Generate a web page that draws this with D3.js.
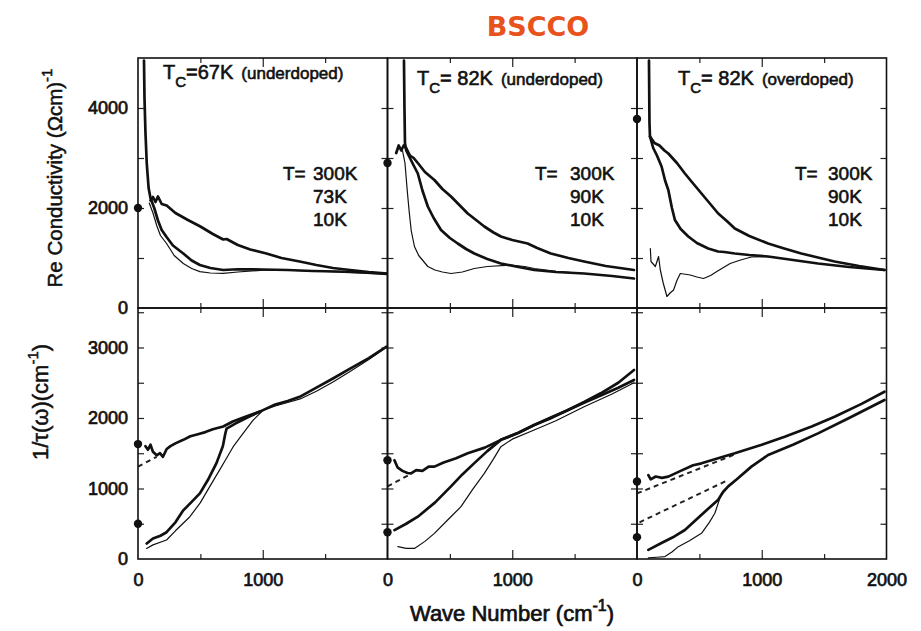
<!DOCTYPE html>
<html>
<head>
<meta charset="utf-8">
<script src="https://cdn.jsdelivr.net/npm/d3@7/dist/d3.min.js"></script>
<style>
  html, body { margin: 0; padding: 0; background: #fff; }
  svg { display: block; }
  text { font-family: "Liberation Sans", Arial, sans-serif; fill: #111; }
</style>
</head>
<body>
<svg id="chart" width="921" height="631"></svg>
<script>
// ---------------- DATA ----------------
const chartTitle = "BSCCO";
const tcValues = ["=67K", "= 82K", "= 82K"];
const dopings = ["(underdoped)", "(underdoped)", "(overdoped)"];
const tempLabels = [["300K", "73K", "10K"], ["300K", "90K", "10K"], ["300K", "90K", "10K"]];
const xTickLabels = [[0, 1000], [0, 1000], [0, 1000, 2000]];
const yTickLabelsTop = [0, 2000, 4000];
const yTickLabelsBottom = [0, 1000, 2000, 3000];
const yTicksTop = [1000, 2000, 3000, 4000];
const yTicksBottom = [500, 1000, 1500, 2000, 2500, 3000, 3500];

// DC values (filled dots at zero frequency)
const sigmaDC = [[2000], [2900], [3780]];
const tauDC = [[1630, 500], [1400, 380], [1100, 310]];

// Re conductivity, Tc = 67K underdoped
const s67_300 = [[100,2150],[120,2220],[140,2120],[160,2230],[190,2080],[230,2050],[300,1900],[400,1760],[500,1630],[600,1480],[683,1370],[710,1380],[800,1260],[900,1170],[1029,1090],[1150,1000],[1296,930],[1430,860],[1563,800],[1700,760],[1850,720],[2000,690]];
const s67_73 = [[48,4950],[52,4200],[60,3500],[70,2900],[85,2400],[100,2200],[130,2000],[160,1750],[190,1560],[229,1420],[280,1250],[363,1090],[430,950],[496,860],[580,800],[683,760],[800,775],[1000,770],[1200,760],[1400,740],[1600,730],[1800,710],[2000,680]];
const s67_10 = [[90,2100],[120,1900],[150,1650],[180,1450],[229,1290],[290,1050],[363,890],[430,790],[496,727],[580,700],[683,693],[800,720],[1029,760],[1250,750],[1500,730],[1750,705],[2000,675]];

// Re conductivity, Tc = 82K underdoped
const s82u_300 = [[70,3100],[90,3250],[110,3150],[130,3250],[150,3200],[180,3050],[210,3000],[243,2900],[300,2720],[376,2560],[440,2380],[509,2230],[580,2050],[643,1890],[710,1760],[776,1630],[850,1510],[909,1430],[1000,1360],[1123,1290],[1200,1200],[1309,1090],[1450,1000],[1576,930],[1750,840],[1976,760]];
const s82u_90 = [[132,4950],[136,4000],[140,3300],[150,3150],[180,3000],[210,2850],[243,2690],[280,2350],[323,2030],[370,1800],[429,1560],[500,1400],[563,1290],[630,1180],[696,1090],[800,980],[909,890],[1050,820],[1176,760],[1350,720],[1576,690],[1800,640],[1976,590]];
const s82u_10 = [[120,3150],[140,2900],[160,2300],[175,1900],[190,1550],[216,1230],[250,1050],[290,930],[323,830],[380,760],[440,720],[509,690],[600,720],[696,790],[800,830],[989,860],[1100,830],[1176,790],[1350,735],[1576,690],[1800,640],[1976,590]];

// Re conductivity, Tc = 82K overdoped
const s82o_300 = [[104,3430],[140,3300],[180,3250],[220,3150],[251,3090],[320,2900],[384,2690],[450,2490],[517,2290],[584,2090],[651,1890],[720,1740],[784,1590],[900,1440],[1051,1290],[1180,1190],[1317,1090],[1450,1010],[1584,930],[1780,840],[1984,760]];
const s82o_90 = [[96,4950],[98,4300],[100,3700],[104,3430],[130,3200],[160,3050],[197,2830],[225,2550],[251,2360],[280,2000],[304,1760],[350,1580],[411,1430],[480,1300],[571,1190],[650,1130],[700,1120],[784,1090],[900,1060],[1051,1030],[1250,960],[1451,890],[1700,820],[1984,760]];
const s82o_10 = [[107,1190],[112,930],[147,830],[173,1030],[187,760],[210,500],[240,230],[265,300],[293,360],[320,550],[347,690],[427,660],[480,620],[533,590],[590,650],[640,730],[700,820],[747,890],[830,960],[917,1020],[1051,1030],[1250,960],[1451,890],[1700,820],[1984,760]];

// Scattering rate 1/tau, Tc = 67K underdoped
const t67_300 = [[60,1600],[80,1550],[100,1620],[120,1520],[150,1470],[176,1500],[200,1450],[230,1560],[260,1600],[300,1640],[363,1690],[420,1740],[480,1770],[540,1800],[600,1840],[683,1880],[760,1950],[850,2010],[976,2090],[1100,2190],[1200,2240],[1296,2300],[1430,2430],[1563,2560],[1700,2700],[1850,2850],[1989,3010]];
const t67_300x = [[0,1310],[150,1450]];
const t67_73 = [[70,220],[120,290],[180,330],[229,380],[300,520],[363,690],[430,810],[496,930],[560,1120],[629,1360],[680,1600],[700,1780],[710,1850],[780,1920],[880,2010],[976,2090]];
const t67_10 = [[69,150],[120,200],[229,270],[300,400],[416,600],[500,800],[576,1030],[650,1250],[700,1400],[763,1593],[850,1800],[923,1970],[1003,2110],[1100,2170],[1200,2220],[1300,2270],[1430,2380],[1563,2510],[1700,2660],[1850,2830],[1989,3000]];

// Scattering rate 1/tau, Tc = 82K underdoped
const t82u_300 = [[56,1400],[80,1300],[120,1250],[160,1220],[189,1215],[230,1260],[280,1250],[330,1310],[376,1310],[450,1370],[550,1430],[643,1500],[780,1580],[909,1690],[1050,1790],[1176,1900],[1300,1990],[1443,2110],[1580,2230],[1709,2350],[1850,2500],[1976,2680]];
const t82u_300x = [[0,1030],[190,1210]];
const t82u_90 = [[56,410],[150,500],[243,600],[380,800],[509,1030],[600,1200],[696,1360],[800,1530],[909,1690],[1050,1790],[1176,1900],[1300,2000],[1443,2110],[1580,2220],[1709,2320],[1850,2430],[1976,2540]];
const t82u_10 = [[83,175],[150,150],[216,150],[300,250],[376,364],[480,550],[589,742],[680,980],[776,1215],[850,1420],[909,1593],[1000,1700],[1176,1830],[1350,1960],[1576,2160],[1800,2340],[1976,2500]];

// Scattering rate 1/tau, Tc = 82K overdoped
const t82o_300 = [[91,1190],[110,1130],[150,1170],[200,1150],[251,1168],[350,1250],[450,1330],[517,1357],[650,1430],[784,1499],[1000,1620],[1184,1735],[1400,1880],[1584,2018],[1800,2200],[1984,2373]];
const t82o_300x = [[0,930],[780,1480]];
const t82o_90 = [[91,130],[200,230],[300,320],[384,411],[500,600],[600,760],[651,840],[690,950],[731,1030],[800,1130],[917,1310],[1051,1475],[1250,1620],[1451,1782],[1700,2000],[1984,2255]];
const t82o_90x = [[20,520],[730,1120]];
const t82o_10 = [[91,15],[160,25],[224,35],[280,100],[331,175],[420,260],[517,364],[580,520],[624,648],[677,930],[731,1030]];

// ---------------- LAYOUT ----------------
const svg = d3.select("#chart");
const panelW = 249.5, x0 = 138;
const topY = [58, 308], botY = [308, 559];
const thick = 2.7, thin = 1.2;

const panels = [
  { sigma: [s67_300, s67_73, s67_10], tau: [t67_300, t67_73, t67_10], dashed: [t67_300x] },
  { sigma: [s82u_300, s82u_90, s82u_10], tau: [t82u_300, t82u_90, t82u_10], dashed: [t82u_300x] },
  { sigma: [s82o_300, s82o_90, s82o_10], tau: [t82o_300, t82o_90, t82o_10], dashed: [t82o_300x, t82o_90x] }
];
const titleX = [163, 417, 678], titleBase = [79, 85, 85];
const legTX = [283, 535, 795], legVX = [313, 570, 828], legBase = [180, 203, 226];
const widths = [thick, thick, thin];

const yTop = d3.scaleLinear().domain([0, 5000]).range([topY[1], topY[0]]);
const yBot = d3.scaleLinear().domain([0, 3560]).range([botY[1], botY[0]]);

function tickAxis(g, axis) {
  g.call(axis.tickFormat("").tickSizeOuter(0));
  g.select(".domain").remove();
  g.selectAll("line").attr("stroke", "#222").attr("stroke-width", 1.2);
}

panels.forEach((p, i) => {
  const left = x0 + i * panelW;
  const x = d3.scaleLinear().domain([0, 2000]).range([left, left + panelW]);
  [[yTop, topY, yTicksTop, p.sigma], [yBot, botY, yTicksBottom, p.tau]].forEach(([y, yr, yt, series], k) => {
    const g = svg.append("g");
    const clipId = `clip${i}${k}`;
    svg.append("clipPath").attr("id", clipId).append("rect")
      .attr("x", left).attr("y", yr[0]).attr("width", panelW).attr("height", yr[1] - yr[0]);
    const line = d3.line().x(d => x(d[0])).y(d => y(d[1]));
    const cg = g.append("g").attr("clip-path", `url(#${clipId})`);
    if (k === 1) {
      p.dashed.forEach(d => cg.append("path").attr("d", line(d)).attr("fill", "none")
        .attr("stroke", "#222").attr("stroke-width", 2).attr("stroke-dasharray", "5,4"));
    }
    [2, 1, 0].forEach(j => {
      cg.append("path").attr("d", line(series[j])).attr("fill", "none")
        .attr("stroke", "#111").attr("stroke-width", widths[j])
        .attr("stroke-linejoin", "round").attr("stroke-linecap", "round");
    });
    const xr = [500, 1500];
    tickAxis(g.append("g").attr("transform", `translate(0,${yr[1]})`), d3.axisBottom(x).tickValues(xr).tickSize(-5));
    tickAxis(g.append("g").attr("transform", `translate(0,${yr[1]})`), d3.axisBottom(x).tickValues([1000]).tickSize(-9));
    tickAxis(g.append("g").attr("transform", `translate(0,${yr[0]})`), d3.axisTop(x).tickValues(xr).tickSize(-5));
    tickAxis(g.append("g").attr("transform", `translate(0,${yr[0]})`), d3.axisTop(x).tickValues([1000]).tickSize(-9));
    tickAxis(g.append("g").attr("transform", `translate(${left},0)`), d3.axisLeft(y).tickValues(yt).tickSize(-6));
    tickAxis(g.append("g").attr("transform", `translate(${left + panelW},0)`), d3.axisRight(y).tickValues(yt).tickSize(-6));
    g.append("rect").attr("x", left).attr("y", yr[0]).attr("width", panelW).attr("height", yr[1] - yr[0])
      .attr("fill", "none").attr("stroke", "#111").attr("stroke-width", 1.6);
  });

  sigmaDC[i].forEach(v => svg.append("circle").attr("cx", x(0)).attr("cy", yTop(v)).attr("r", 4.2).attr("fill", "#111"));
  tauDC[i].forEach(v => svg.append("circle").attr("cx", x(0)).attr("cy", yBot(v)).attr("r", 4.2).attr("fill", "#111"));

  const xa = svg.append("g").attr("transform", `translate(0,${botY[1]})`)
    .call(d3.axisBottom(x).tickValues(xTickLabels[i]).tickSize(0).tickPadding(14).tickFormat(d3.format("d")));
  xa.select(".domain").remove();
  xa.selectAll("text").attr("font-size", 18).attr("font-family", "Liberation Sans, Arial, sans-serif")
    .attr("fill", "#111").attr("stroke", "#111").attr("stroke-width", 0.7);

  const t = svg.append("text").attr("x", titleX[i]).attr("y", titleBase[i])
    .attr("stroke", "#111").attr("stroke-width", 0.6);
  t.append("tspan").attr("font-size", 20).text("T");
  t.append("tspan").attr("font-size", 15).attr("dy", 8).text("C");
  t.append("tspan").attr("font-size", 20).attr("dy", -8).text(tcValues[i]);
  t.append("tspan").attr("font-size", 17).attr("dx", 8).text(dopings[i]);

  svg.append("text").attr("x", legTX[i]).attr("y", legBase[0]).attr("font-size", 19)
    .attr("stroke", "#111").attr("stroke-width", 0.6).text("T=");
  tempLabels[i].forEach((s, j) => svg.append("text").attr("x", legVX[i]).attr("y", legBase[j])
    .attr("font-size", 19).attr("stroke", "#111").attr("stroke-width", 0.6).text(s));
});

[[yTop, yTickLabelsTop], [yBot, yTickLabelsBottom]].forEach(([y, vals]) => {
  const ya = svg.append("g").attr("transform", `translate(${x0},0)`)
    .call(d3.axisLeft(y).tickValues(vals).tickSize(0).tickPadding(10).tickFormat(d3.format("d")));
  ya.select(".domain").remove();
  ya.selectAll("text").attr("font-size", 18).attr("font-family", "Liberation Sans, Arial, sans-serif")
    .attr("fill", "#111").attr("stroke", "#111").attr("stroke-width", 0.7);
});

const yt1 = svg.append("text").attr("transform", "translate(62,178) rotate(-90)")
  .attr("text-anchor", "middle").attr("font-size", 20.5).attr("stroke", "#111").attr("stroke-width", 0.5);
yt1.append("tspan").text("Re Conductivity (Ωcm)");
yt1.append("tspan").attr("font-size", 15).attr("dy", -10).text("-1");

const yt2 = svg.append("text").attr("transform", "translate(48,402) rotate(-90)")
  .attr("text-anchor", "middle").attr("font-size", 22).attr("stroke", "#111").attr("stroke-width", 0.5);
yt2.append("tspan").text("1/τ(ω)(cm");
yt2.append("tspan").attr("font-size", 15).attr("dy", -10).text("-1");
yt2.append("tspan").attr("dy", 10).text(")");

const xt = svg.append("text").attr("x", 512).attr("y", 621).attr("text-anchor", "middle")
  .attr("font-size", 22).attr("stroke", "#111").attr("stroke-width", 0.7);
xt.append("tspan").text("Wave Number (cm");
xt.append("tspan").attr("font-size", 16).attr("dy", -10).text("-1");
xt.append("tspan").attr("dy", 10).text(")");

svg.append("text").attr("x", 538).attr("y", 36).attr("text-anchor", "middle")
  .style("font-family", "DejaVu Sans, sans-serif").attr("font-weight", "bold")
  .attr("font-size", 27).style("fill", "#E8521B").text(chartTitle);
</script>
</body>
</html>
